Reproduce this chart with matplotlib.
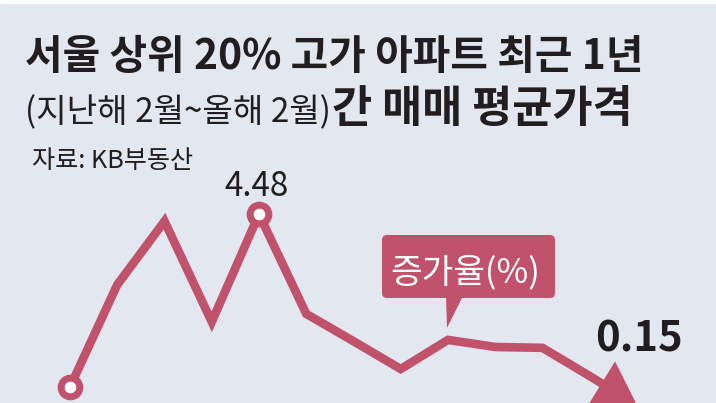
import matplotlib
matplotlib.use("Agg")
import matplotlib.pyplot as plt
import matplotlib.transforms as mtransforms
from matplotlib.patches import FancyBboxPatch, Polygon, Rectangle

plt.rcParams["font.family"] = ["Noto Sans CJK KR", "DejaVu Sans"]

# monthly price change (%), Feb last year ~ Feb this year
months = ["2월", "3월", "4월", "5월", "6월", "7월", "8월", "9월", "10월", "11월", "12월", "1월", "2월"]
rates = [0.56, 2.88, 4.32, 2.04, 4.48, 2.22, 1.60, 0.97, 1.63, 1.47, 1.45, 0.81, 0.15]

title1 = "서울 상위 20% 고가 아파트 최근 1년"
title2a = "(지난해 2월~올해 2월)"
title2b = "간 매매 평균가격"
source = "자료: KB부동산"
legend_label = "증가율(%)"

bg = "#e3e7ef"
red = "#c0526b"
ink = "#221e1f"

W, H = 716, 403
fig = plt.figure(figsize=(W / 100, H / 100), dpi=100)
fig.patch.set_facecolor(bg)
pix = mtransforms.Affine2D().scale(1 / W, -1 / H).translate(0, 1) + fig.transFigure
fig.patches.append(Rectangle((0, 0), W, 3, transform=pix, color="white", zorder=0))

ax = fig.add_axes([0, 0, 1, 1])
ax.set_facecolor("none")
ax.axis("off")
# pixel layout: month i at x = 70 + 47.25 i, 4.48% at y = 213, 0.15% at y = 403
step, k = 47.25, 43.88
ax.set_xlim(-70 / step, (W - 70) / step)
ax.set_ylim(4.48 - (H - 213) / k + 0.05, 4.48 + 213 / k)

xs = list(range(len(rates)))
ax.plot(xs[:-1], rates[:-1], color=red, lw=6.2, solid_joinstyle="miter",
        solid_capstyle="butt", zorder=3)
ax.annotate("", xy=(xs[-1], rates[-1]), xytext=(xs[-2], rates[-2]),
            arrowprops=dict(arrowstyle="-|>,head_length=1.05,head_width=0.65",
                            lw=6.2, color=red, shrinkA=0, shrinkB=0,
                            mutation_scale=20, joinstyle="miter"),
            zorder=3, annotation_clip=False)
peak = rates.index(max(rates))
ax.plot([xs[0], xs[peak]], [rates[0], rates[peak]], ls="none", marker="o", ms=13.5,
        mew=5, mfc="white", mec=red, zorder=4)

renderer = fig.canvas.get_renderer()


def fit_text(x, y, s, width, size, **kw):
    t = fig.text(x / W, 1 - y / H, s, fontsize=size, **kw)
    for _ in range(3):
        w = t.get_window_extent(renderer=renderer).width
        t.set_fontsize(t.get_fontsize() * width / w)
    return t


fit_text(25, 69, title1, 618, 28, weight="bold", color=ink, va="baseline")
t2a = fit_text(25, 122, title2a, 306, 26, weight="normal", color=ink, va="baseline")
x2b = 25 + t2a.get_window_extent(renderer=renderer).width + 1
fit_text(x2b, 122, title2b, 633 - x2b, t2a.get_fontsize(), weight="bold",
         color=ink, va="baseline")
fit_text(32, 168, source, 161, 15, color=ink, va="baseline")

fit_text(224, 196, f"{rates[peak]:.2f}", 64, 24, color=ink, va="baseline")
fit_text(595, 352, f"{rates[-1]:.2f}", 88, 28, weight="bold", color=ink, va="baseline")

# callout box
fig.patches.append(FancyBboxPatch((382, 235), 173, 63, transform=pix,
                                  boxstyle="round,pad=0,rounding_size=5",
                                  fc=red, ec="none", zorder=2))
fig.patches.append(Polygon([(446, 296), (463, 296), (447, 328)], closed=True,
                           transform=pix, fc=red, ec="none", zorder=2))
fit_text(390, 282, legend_label, 150, 20, color="white", va="baseline")

fig.savefig("out.png", dpi=100, facecolor=bg)
